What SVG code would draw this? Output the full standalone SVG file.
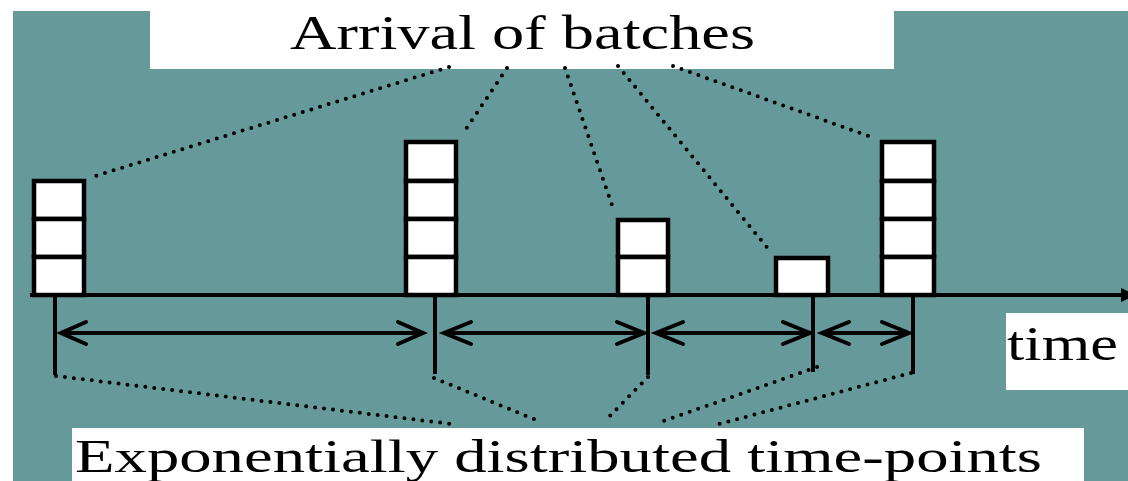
<svg xmlns="http://www.w3.org/2000/svg" width="1128" height="481" viewBox="0 0 1128 481">
<style>
.bg{fill:#669999}
.lbl{fill:#ffffff}
.txt{font-family:"Liberation Serif","Times New Roman",serif;fill:#000000}
.cell{fill:#ffffff;stroke:#000000;stroke-width:4.5}
.solid{stroke:#000000;stroke-width:4;fill:none}
.head{stroke:#000000;stroke-width:4;fill:none;stroke-linecap:round;stroke-linejoin:miter}
.dot{stroke:#000000;stroke-width:4;fill:none;stroke-linecap:round;stroke-dasharray:0 9}
</style>
<rect width="1128" height="481" fill="#ffffff"/>
<rect class="bg" x="13" y="11" width="1115" height="470"/>

<g id="title">
<rect class="lbl" x="150" y="0" width="744" height="69"/>
<text class="txt" x="290" y="49" font-size="48" textLength="465" lengthAdjust="spacingAndGlyphs">Arrival of batches</text>
</g>

<g id="stack1">
<rect class="cell" x="34" y="181" width="50" height="38"/>
<rect class="cell" x="34" y="219" width="50" height="38"/>
<rect class="cell" x="34" y="257" width="50" height="38"/>
</g>
<g id="stack2">
<rect class="cell" x="406" y="142" width="50" height="39"/>
<rect class="cell" x="406" y="181" width="50" height="38"/>
<rect class="cell" x="406" y="219" width="50" height="38"/>
<rect class="cell" x="406" y="257" width="50" height="38"/>
</g>
<g id="stack3">
<rect class="cell" x="618" y="220" width="50" height="37"/>
<rect class="cell" x="618" y="257" width="50" height="38"/>
</g>
<g id="stack4">
<rect class="cell" x="776" y="258" width="52" height="37"/>
</g>
<g id="stack5">
<rect class="cell" x="882" y="142" width="52" height="39"/>
<rect class="cell" x="882" y="181" width="52" height="38"/>
<rect class="cell" x="882" y="219" width="52" height="38"/>
<rect class="cell" x="882" y="257" width="52" height="38"/>
</g>

<g id="time-label">
<rect class="lbl" x="1006" y="313" width="122" height="77"/>
<text class="txt" x="1007" y="360" font-size="49" textLength="111" lengthAdjust="spacingAndGlyphs">time</text>
</g>

<g id="points-label">
<rect class="lbl" x="72" y="428" width="1012" height="53"/>
<text class="txt" x="75" y="472" font-size="47" textLength="967" lengthAdjust="spacingAndGlyphs">Exponentially distributed time-points</text>
</g>

<g id="connectors">
<!-- time axis -->
<line class="solid" x1="30" y1="295" x2="1124" y2="295"/>
<polygon points="1121,288 1136,295 1121,302" fill="#000000"/>
<!-- ticks -->
<line class="solid" x1="55" y1="295" x2="55" y2="375"/>
<line class="solid" x1="435" y1="295" x2="435" y2="374"/>
<line class="solid" x1="648" y1="295" x2="648" y2="375"/>
<line class="solid" x1="813" y1="295" x2="813" y2="372"/>
<line class="solid" x1="913" y1="295" x2="913" y2="374"/>
<!-- interval arrows -->
<line class="solid" x1="61" y1="333" x2="424" y2="333"/>
<polyline class="head" points="86,322 61,333 86,344"/>
<polyline class="head" points="398,322 423,333 398,344"/>
<line class="solid" x1="444" y1="333" x2="644" y2="333"/>
<polyline class="head" points="471,322 444,333 471,344"/>
<polyline class="head" points="617,322 644,333 617,344"/>
<line class="solid" x1="656" y1="333" x2="810" y2="333"/>
<polyline class="head" points="683,322 656,333 683,344"/>
<polyline class="head" points="783,322 810,333 783,344"/>
<line class="solid" x1="822" y1="333" x2="909" y2="333"/>
<polyline class="head" points="849,322 822,333 849,344"/>
<polyline class="head" points="882,322 909,333 882,344"/>
<!-- dotted leaders to batches -->
<line class="dot" x1="449" y1="67" x2="92" y2="177"/>
<line class="dot" x1="507" y1="68" x2="462" y2="135"/>
<line class="dot" x1="565" y1="68" x2="614" y2="211"/>
<line class="dot" x1="618" y1="66" x2="770" y2="251"/>
<line class="dot" x1="673" y1="66" x2="874" y2="138"/>
<!-- dotted leaders to time-points -->
<line class="dot" x1="56" y1="376" x2="452" y2="424"/>
<line class="dot" x1="434" y1="378" x2="541" y2="422"/>
<line class="dot" x1="648" y1="377" x2="605" y2="421"/>
<line class="dot" x1="817" y1="367" x2="658" y2="423"/>
<line class="dot" x1="911" y1="373" x2="719" y2="424"/>
</g>
</svg>
